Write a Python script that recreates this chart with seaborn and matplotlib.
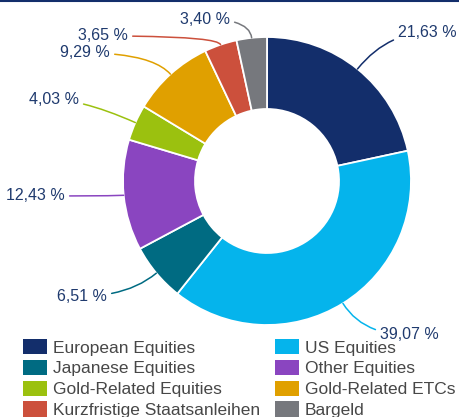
import numpy as np
import matplotlib
matplotlib.use("Agg")
import matplotlib.pyplot as plt
from matplotlib.patches import Patch
from matplotlib.lines import Line2D
import seaborn as sns

# Portfolio allocation (percent), clockwise from 12 o'clock
categories = [
    "European Equities", "US Equities", "Japanese Equities", "Other Equities",
    "Gold-Related Equities", "Gold-Related ETCs", "Kurzfristige Staatsanleihen", "Bargeld",
]
shares = [21.63, 39.07, 6.51, 12.43, 4.03, 9.29, 3.65, 3.40]
colors = ["#132e6b", "#05b4ec", "#006b82", "#8a45c0",
          "#9bc10f", "#e0a000", "#cc503c", "#76787d"]

# Label anchor positions (data units, radius = 1) and alignment
label_pos = [(0.91, 1.028), (0.785, -1.069), (-1.111, -0.799), (-1.403, -0.104),
             (-1.306, 0.5625), (-1.090, 0.889), (-0.965, 1.007), (-0.257, 1.125)]
label_ha = ["left", "left", "right", "right", "right", "right", "right", "right"]

sns.set_theme(style="white")
plt.rcParams["font.family"] = ["Liberation Sans", "DejaVu Sans"]

W, H, DPI = 459, 417, 100
fig = plt.figure(figsize=(W / DPI, H / DPI), dpi=DPI)
ax = fig.add_axes([0, 0, 1, 1])

wedges, _ = ax.pie(
    shares, colors=colors, startangle=90, counterclock=False, radius=1.0,
    wedgeprops=dict(width=0.5, edgecolor="white", linewidth=1.3),
)

R = 144.0  # px per data unit
cx, cy = 267.0, 236.0
ax.set_xlim(-cx / R, (W - cx) / R)
ax.set_ylim(-cy / R, (H - cy) / R)
ax.set_aspect("equal")
ax.set_axis_off()

label_color = "#1f3a6e"
for w, val, (tx, ty), ha, col in zip(wedges, shares, label_pos, label_ha, colors):
    mid = 0.5 * (w.theta1 + w.theta2)
    ex, ey = np.cos(np.radians(mid)), np.sin(np.radians(mid))
    txt = f"{val:.2f}".replace(".", ",") + " %"
    ax.annotate(
        txt, xy=(ex, ey), xytext=(tx, ty), ha=ha, va="center",
        fontsize=11.5, color=label_color,
        arrowprops=dict(arrowstyle="-", color=col, lw=1.1, shrinkA=1, shrinkB=0,
                        connectionstyle=f"angle3,angleA=0,angleB={mid}"),
    )

# Two-column legend filled row by row
order = [0, 2, 4, 6, 1, 3, 5, 7]
handles = [Patch(facecolor=colors[i], edgecolor="none") for i in order]
fig.legend(
    handles, [categories[i] for i in order], ncol=2, loc="upper left",
    bbox_to_anchor=(23 / W, 1 - 339 / H), bbox_transform=fig.transFigure,
    frameon=False, fontsize=12.5, borderpad=0, borderaxespad=0,
    handlelength=1.38, handleheight=0.98, handletextpad=0.35,
    labelspacing=0.24, columnspacing=0.86, labelcolor="#474747",
)

# Thin rule along the top edge
fig.add_artist(Line2D([0, 1], [1 - 0.8 / H, 1 - 0.8 / H], transform=fig.transFigure,
                      color="#132e6b", lw=1.5))

fig.savefig("out.png", dpi=DPI)
